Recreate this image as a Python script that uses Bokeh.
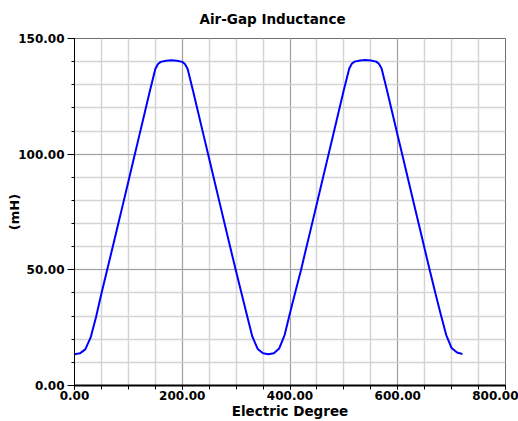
from bokeh.plotting import figure
from bokeh.models import Range1d, SingleIntervalTicker, NumeralTickFormatter
from bokeh.embed import file_html
from bokeh.resources import INLINE

# Electric degree (x) and air-gap inductance in mH (y)
degree = [0, 10, 20, 30, 40, 50, 60, 70, 80, 90, 100, 110, 120, 130, 140, 150, 155, 160, 170, 180,
          190, 200, 205, 210, 220, 230, 240, 250, 260, 270, 280, 290, 300, 310, 320, 330, 340, 350, 360,
          370, 380, 390, 400, 410, 420, 430, 440, 450, 460, 470, 480, 490, 500, 510, 515, 520, 530, 540,
          550, 560, 565, 570, 580, 590, 600, 610, 620, 630, 640, 650, 660, 670, 680, 690, 700, 710, 720]
inductance = [13.5, 13.9, 15.6, 20.8, 29.6, 39.8, 49.4, 59.0, 68.7, 78.4, 88.2, 98.0, 107.8, 117.6, 127.4, 136.8, 139.0, 139.9, 140.4, 140.6,
              140.4, 139.9, 139.0, 136.8, 127.4, 117.6, 107.8, 98.0, 88.2, 78.4, 68.6, 58.9, 49.3, 39.9, 30.5, 21.2, 15.8, 13.9, 13.5,
              13.9, 16.0, 21.8, 31.3, 40.5, 49.5, 59.3, 69.0, 78.8, 88.6, 98.4, 108.2, 118.0, 127.8, 137.0, 139.2, 140.0, 140.5, 140.7,
              140.5, 140.0, 139.1, 137.0, 127.6, 117.8, 108.0, 98.2, 88.4, 78.6, 68.8, 59.0, 49.3, 39.8, 30.6, 21.8, 16.2, 14.3, 13.6]

TITLE = "Air-Gap Inductance"
X_LABEL = "Electric Degree"
Y_LABEL = "(mH)"
FONT = "DejaVu Sans"

p = figure(width=518, height=421, output_backend="svg", toolbar_location=None,
           x_range=Range1d(0, 800), y_range=Range1d(0, 150),
           min_border_left=74, min_border_right=13, min_border_top=38, min_border_bottom=33)

p.title.text = TITLE
p.title.text_font = FONT
p.title.text_font_style = "bold"
p.title.text_font_size = "13.5px"
p.title.align = "left"
p.title.vertical_align = "top"
p.title.offset = 125
p.title.standoff = 20
p.title.text_color = "#000000"

p.xaxis.ticker = SingleIntervalTicker(interval=200, num_minor_ticks=4)
p.yaxis.ticker = SingleIntervalTicker(interval=50, num_minor_ticks=5)
p.xaxis.formatter = NumeralTickFormatter(format="0.00")
p.yaxis.formatter = NumeralTickFormatter(format="0.00")

for ax in (p.xaxis, p.yaxis):
    ax.major_label_text_font = FONT
    ax.major_label_text_font_style = "bold"
    ax.major_label_text_font_size = "12px"
    ax.major_label_text_color = "#000000"
    ax.axis_label_text_font = FONT
    ax.axis_label_text_font_style = "bold"
    ax.axis_label_text_color = "#000000"
    ax.axis_line_color = "#000000"
    ax.major_tick_line_color = "#000000"
    ax.minor_tick_line_color = "#000000"
    ax.major_tick_in = 0
    ax.minor_tick_in = 0

p.xaxis.axis_label = X_LABEL
p.xaxis.axis_label_text_font_size = "13.5px"
p.xaxis.axis_line_width = 2
p.xaxis.major_tick_out = 4
p.xaxis.minor_tick_out = 4
p.xaxis.major_label_standoff = 1
p.xaxis.axis_label_standoff = 0

p.yaxis.axis_label = Y_LABEL
p.yaxis.axis_label_text_font_size = "13px"
p.yaxis.axis_line_width = 1
p.yaxis.major_tick_out = 7
p.yaxis.minor_tick_out = 3
p.yaxis.major_label_standoff = 3
p.yaxis.axis_label_standoff = -7

p.grid.grid_line_color = "#a0a0a0"
p.grid.grid_line_width = 1
p.grid.minor_grid_line_color = "#d4d4d4"
p.grid.minor_grid_line_width = 1.5

p.outline_line_color = "#707070"
p.outline_line_width = 1
p.background_fill_color = "#ffffff"
p.border_fill_color = "#ffffff"

p.line(degree, inductance, line_color="#0000ff", line_width=2)

open("out.html", "w").write(file_html(p, INLINE))
